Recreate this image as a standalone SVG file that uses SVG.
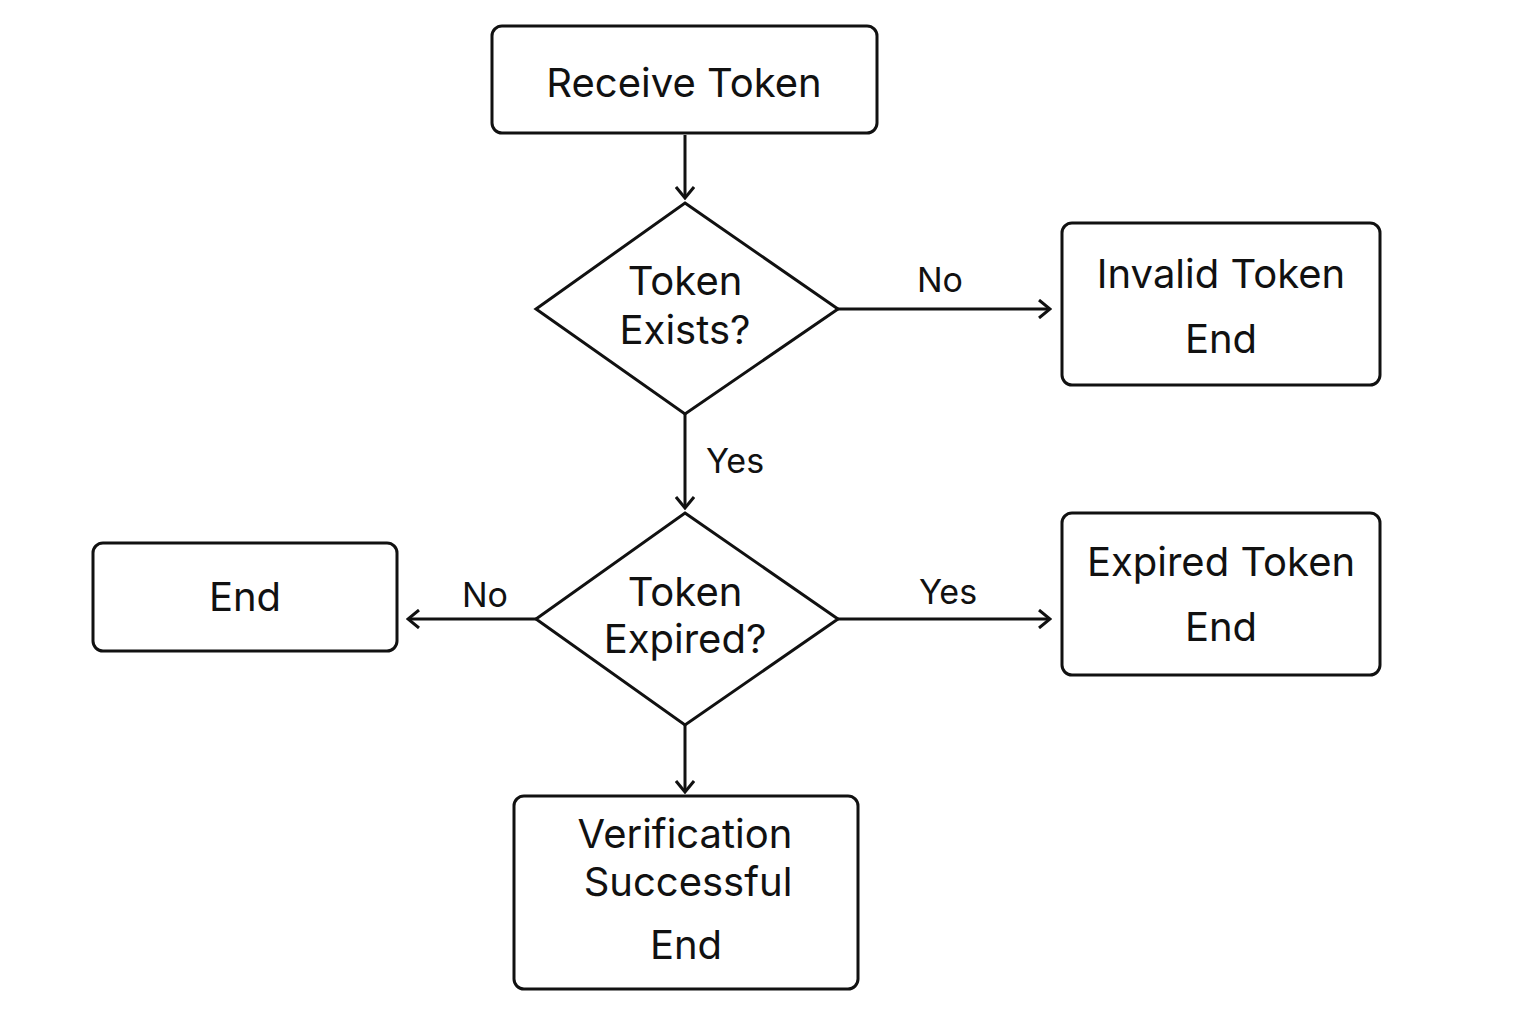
<svg xmlns="http://www.w3.org/2000/svg" width="1536" height="1024" viewBox="0 0 1536 1024">
<style>
.b{fill:#fff;stroke:#111;stroke-width:3}
.t{font-family:Inter,"Liberation Sans",sans-serif;font-size:40px;fill:#111;text-anchor:middle}
.l{font-family:Inter,"Liberation Sans",sans-serif;font-size:34px;fill:#111;text-anchor:middle}
.c{stroke:#111;stroke-width:3;fill:none;marker-end:url(#a)}
</style>
<defs><marker id="a" markerWidth="14" markerHeight="20" refX="12" refY="10" orient="auto" markerUnits="userSpaceOnUse"><path d="M1,1 L12,10 L1,19" fill="none" stroke="#111" stroke-width="3"/></marker></defs>
<rect width="1536" height="1024" fill="#fff"/>
<g id="connectors">
<path class="c" d="M685,135 V198"/>
<path class="c" d="M838,309 H1050"/>
<path class="c" d="M685,414 V508"/>
<path class="c" d="M536,619 H408"/>
<path class="c" d="M838,619 H1050"/>
<path class="c" d="M685,725 V792"/>
<text class="l" x="940" y="292">No</text>
<text class="l" x="735" y="473">Yes</text>
<text class="l" x="485" y="607">No</text>
<text class="l" x="948" y="604">Yes</text>
</g>
<g id="receive"><rect class="b" x="492" y="26" width="385" height="107" rx="10"/><text class="t" x="684" y="97">Receive Token</text></g>
<g id="exists"><path class="b" d="M685,203 L838,309 L685,414 L536,309 Z"/><text class="t" x="685" y="295">Token</text><text class="t" x="685" y="344">Exists?</text></g>
<g id="invalid"><rect class="b" x="1062" y="223" width="318" height="162" rx="10"/><text class="t" x="1221" y="288">Invalid Token</text><text class="t" x="1221" y="353">End</text></g>
<g id="expired"><path class="b" d="M685,513 L838,619 L685,725 L536,619 Z"/><text class="t" x="685" y="606">Token</text><text class="t" x="685" y="653">Expired?</text></g>
<g id="end"><rect class="b" x="93" y="543" width="304" height="108" rx="10"/><text class="t" x="245" y="611">End</text></g>
<g id="expiredend"><rect class="b" x="1062" y="513" width="318" height="162" rx="10"/><text class="t" x="1221" y="576">Expired Token</text><text class="t" x="1221" y="641">End</text></g>
<g id="success"><rect class="b" x="514" y="796" width="344" height="193" rx="10"/><text class="t" x="685" y="848">Verification</text><text class="t" x="688" y="896">Successful</text><text class="t" x="686" y="959">End</text></g>
</svg>
